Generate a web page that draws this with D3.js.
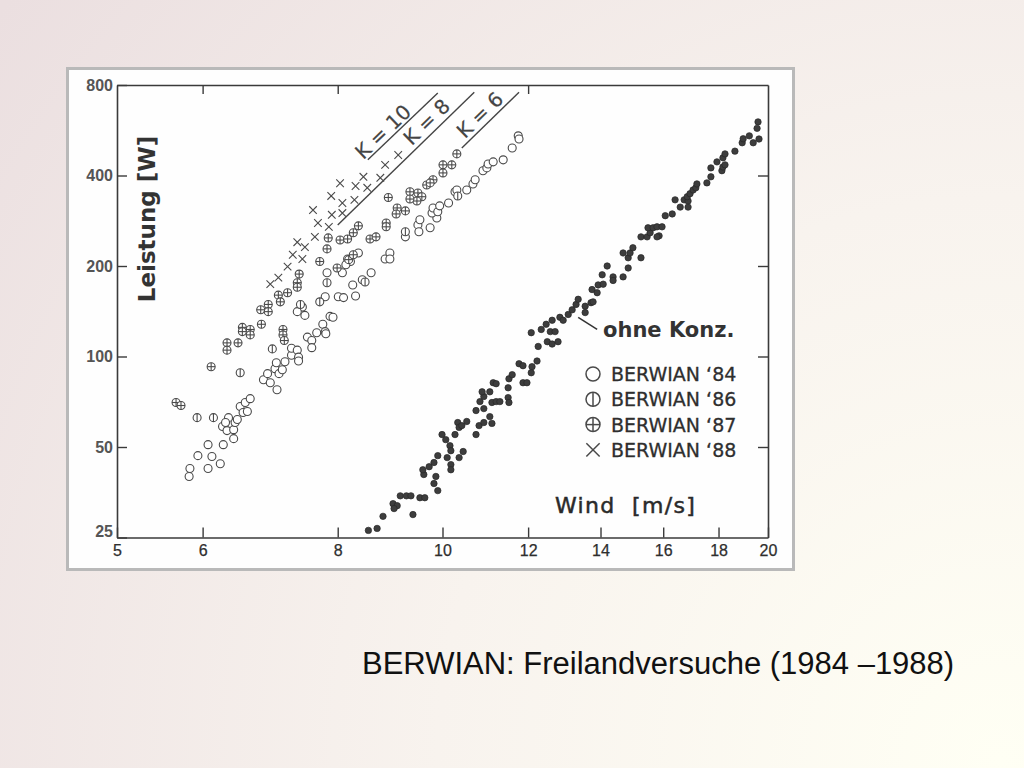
<!DOCTYPE html>
<html>
<head>
<meta charset="utf-8">
<script src="https://cdn.jsdelivr.net/npm/d3@7"></script>
<style>
  html, body { margin: 0; padding: 0; }
  body { width: 1024px; height: 768px; overflow: hidden; }
</style>
</head>
<body>
<svg id="chart" width="1024" height="768" font-family="'DejaVu Sans', sans-serif"></svg>
<script>
// ---------- data ----------
const xTicks = [5, 6, 8, 10, 12, 14, 16, 18, 20];
const yTicks = [25, 50, 100, 200, 400, 800];
const topTicks = [6, 8, 12];
const rightTicks = [50, 100, 200, 400];

// [wind m/s, power W]
const berwian84 = [
  [5.83,39.9],[5.84,42.4],[5.94,46.8],[6.07,42.4],[6.12,46.5],[6.23,44.0],[6.07,50.9],[6.27,50.9],
  [6.41,53.3],[6.26,58.5],[6.32,56.7],[6.41,57.1],[6.43,60.3],[6.34,62.6],[6.30,60.3],[6.46,61.7],
  [6.50,68.2],[6.57,70.3],[6.64,72.4],[6.54,65.1],[6.60,65.6],[6.83,83.7],[6.89,87.7],[6.93,81.8],
  [7.03,77.5],[7.00,91.1],[7.06,87.7],[7.11,90.3],[7.15,96.1],[7.02,95.3],[7.25,101],[7.25,106.5],
  [7.34,105],[7.36,99.5],[7.36,96.6],[7.50,116],[7.57,113],[7.57,107],[7.65,120],[7.75,128],
  [7.79,121],[7.87,136],[7.92,135],[7.80,119],[8.01,158],[8.10,157],[8.31,159],[8.26,173],
  [8.43,180],[8.08,190],[7.82,190],[8.36,221],[8.17,211],[8.22,207],[8.14,202],[8.59,190],
  [8.85,211],[8.94,221],[8.94,211],[9.24,250],[9.49,274],[9.51,260],[9.53,285],[9.74,268],
  [9.88,289],[9.78,300],[9.80,312],[9.90,303],[9.94,317],[10.13,324],[10.27,353],[10.31,358],
  [10.53,358],[10.67,375],[10.72,387],[10.90,415],[10.99,424],[11.02,437],[11.14,444],[11.38,451],
  [11.60,494],[11.75,542],[11.77,529],[7.42,146],[7.34,141],[7.46,137],[7.79,158]
];
const berwian86 = [
  [5.93,62.6],[6.14,62.6],[6.50,88.3],[6.96,106],[7.39,149],[7.70,152],[7.82,176],[8.48,177],
  [9.24,260],[10.33,342]
];
const berwian87 = [
  [5.67,70.3],[5.73,68.7],[6.11,92.5],[6.32,111],[6.32,105],[6.47,111],[6.53,125],[6.53,121],
  [6.64,123],[6.64,118],[6.80,128],[6.79,143],[6.90,149],[6.90,141],[7.05,160],[7.08,152],
  [7.19,163],[7.34,176],[7.34,170],[7.37,188],[7.12,123],[7.12,118],[7.14,113],[7.70,207],
  [7.82,228],[7.84,248],[8.04,244],[8.17,246],[8.27,258],[8.36,272],[8.57,246],[8.68,250],
  [7.99,197],[8.19,210],[8.27,218],[8.87,278],[8.87,270],[9.08,312],[9.06,298],[9.24,305],
  [8.91,338],[9.33,353],[9.49,350],[9.57,340],[9.47,329],[9.33,334],[9.67,372],[9.80,387],
  [9.74,378],[10.01,434],[10.20,434],[10.01,408],[10.31,472]
];
const berwian88 = [
  [6.93,174],[7.05,183],[7.19,199],[7.27,218],[7.34,240],[7.42,211],[7.46,231],[7.62,250],
  [7.67,278],[7.85,270],[7.90,296],[7.59,307],[7.89,342],[8.04,377],[8.08,324],[8.08,300],
  [8.31,369],[8.29,332],[8.45,396],[8.52,364],[8.76,393],[8.85,434],[9.10,468]
];
const ohneKonz = [
  [8.54,26.4],[8.70,26.8],[8.81,29.4],[9.00,32.4],[9.08,31.9],[9.02,31.2],[9.14,34.4],[9.26,34.4],
  [9.35,34.4],[9.39,29.8],[9.53,33.9],[9.63,33.9],[9.61,40.5],[9.59,42.0],[9.72,43.0],[9.82,44.4],
  [9.90,46.8],[9.86,39.9],[9.82,37.8],[9.90,35.8],[9.99,55.0],[10.07,52.9],[10.16,50.5],[10.18,48.6],
  [10.10,46.1],[10.18,43.7],[10.18,42.0],[10.36,46.1],[10.45,48.3],[10.27,55.0],[10.33,60.3],[10.36,58.1],
  [10.42,58.9],[10.53,60.8],[10.74,55.0],[10.74,66.1],[10.83,70.8],[10.92,67.1],[10.92,73.6],[10.88,76.3],
  [11.06,76.3],[10.81,58.9],[10.92,60.3],[11.06,63.1],[11.11,59.9],[11.14,81.8],[11.21,81.2],[11.11,70.3],
  [11.21,70.8],[11.30,70.8],[11.50,73.0],[11.52,70.3],[11.50,78.7],[11.52,84.3],[11.60,87.0],[11.87,81.8],
  [11.97,81.8],[11.77,94.6],[11.87,93.2],[12.10,92.5],[12.23,96.6],[12.08,88.3],[12.08,120],[12.26,108],
  [12.50,112],[12.63,110],[12.79,112],[12.58,121],[12.71,121],[12.34,123],[12.47,128],[12.63,132],
  [12.84,135],[12.93,132],[13.07,138],[13.18,143],[13.29,149],[13.35,155],[13.55,147],[13.55,140],
  [13.72,151],[13.78,152],[13.75,167],[13.90,163],[13.93,173],[14.08,174],[14.05,187],[14.20,200],
  [14.38,184],[14.38,179],[14.69,184],[14.85,197],[14.85,213],[14.69,221],[14.91,221],[15.00,230],
  [15.26,213],[15.26,250],[15.46,250],[15.56,258],[15.49,268],[15.66,268],[15.79,270],[15.96,270],
  [15.86,252],[15.79,250],[16.07,294],[16.31,298],[16.41,332],[16.59,314],[16.87,314],[16.73,332],
  [16.87,329],[16.84,340],[16.94,348],[17.05,358],[17.15,364],[17.19,375],[17.56,378],[17.71,396],
  [17.71,424],[17.94,444],[18.17,458],[18.25,472],[18.13,415],[18.17,427],[18.25,434],[18.64,482],
  [18.93,514],[18.97,530],[19.22,542],[19.38,514],[19.54,574],[19.58,603],[19.62,529]
];

// reference lines (K lines), endpoints in [wind, power]
const kLabels = ["K = 10", "K = 8", "K = 6"];
const kStart = [[8.53,451],[8.00,274],[10.42,494]];
const kEnd   = [[9.90,752],[10.70,757],[11.77,757]];
const kLabelAt = [[8.81,559],[9.67,603],[10.83,636]];

const legendLabels = ["BERWIAN \u201884", "BERWIAN \u201886", "BERWIAN \u201887", "BERWIAN \u201888"];
const legendKinds = ["o", "bar", "plus", "x"];

const xTitle = "Wind  [m/s]";
const yTitle = "Leistung [W]";
const noteText = "ohne Konz.";
const noteFrom = [13.35,135], noteTo = [13.90,123];
const caption = "BERWIAN: Freilandversuche (1984 \u20131988)";

// ---------- drawing ----------
const svg = d3.select("#chart");
const defs = svg.append("defs");
const grad = defs.append("radialGradient").attr("id", "bg")
  .attr("gradientUnits", "userSpaceOnUse")
  .attr("cx", 1000).attr("cy", 760).attr("r", 1250);
grad.append("stop").attr("offset", "0%").attr("stop-color", "#fffff4");
grad.append("stop").attr("offset", "45%").attr("stop-color", "#f8f3ee");
grad.append("stop").attr("offset", "100%").attr("stop-color", "#ebdfe0");
svg.append("rect").attr("width", 1024).attr("height", 768).attr("fill", "url(#bg)");

// picture frame
svg.append("rect").attr("x", 67.5).attr("y", 68.5).attr("width", 726).attr("height", 501)
  .attr("fill", "#fefefe").attr("stroke", "#b9b9b9").attr("stroke-width", 3);

const x = d3.scaleLog().domain([5, 20]).range([117, 768]);
const y = d3.scaleLog().domain([25, 800]).range([537.5, 85]);

const ink = "#3a3a3a";
const sansArial = "'Liberation Sans', Arial, sans-serif";

function styleAxis(g) {
  g.select(".domain").attr("stroke", ink).attr("stroke-width", 1.6);
  g.selectAll(".tick line").attr("stroke", ink).attr("stroke-width", 1.4);
}

const gx = svg.append("g").attr("transform", "translate(0,537.5)")
  .call(d3.axisBottom(x).tickValues(xTicks).tickFormat(d3.format("d"))
        .tickSizeInner(-10).tickSizeOuter(0).tickPadding(7))
  .call(styleAxis);
gx.selectAll(".tick text").attr("font-family", sansArial).attr("font-size", 16)
  .attr("fill", "#2e2e2e").attr("stroke", "#2e2e2e").attr("stroke-width", 0.25);

const gy = svg.append("g").attr("transform", "translate(117,0)")
  .call(d3.axisLeft(y).tickValues(yTicks).tickFormat(d3.format("d"))
        .tickSizeInner(-10).tickSizeOuter(0).tickPadding(4))
  .call(styleAxis);
gy.selectAll(".tick text").attr("font-family", sansArial).attr("font-size", 16)
  .attr("font-weight", "bold").attr("fill", "#555");
gy.selectAll(".tick").filter(d => d === 25).select("text").attr("dy", "-0.05em");

svg.append("g").attr("transform", "translate(0,85)")
  .call(d3.axisTop(x).tickValues(topTicks).tickFormat("")
        .tickSizeInner(-9).tickSizeOuter(0))
  .call(styleAxis);

svg.append("g").attr("transform", "translate(768,0)")
  .call(d3.axisRight(y).tickValues(rightTicks).tickFormat("")
        .tickSizeInner(-10).tickSizeOuter(0))
  .call(styleAxis);

// K lines
const kg = svg.append("g");
kLabels.forEach((lab, i) => {
  const x1 = x(kStart[i][0]), y1 = y(kStart[i][1]);
  const x2 = x(kEnd[i][0]), y2 = y(kEnd[i][1]);
  kg.append("line").attr("x1", x1).attr("y1", y1).attr("x2", x2).attr("y2", y2)
    .attr("stroke", "#444").attr("stroke-width", 1.4);
  const ang = Math.atan2(y2 - y1, x2 - x1) * 180 / Math.PI;
  kg.append("text")
    .attr("transform", `translate(${x(kLabelAt[i][0])},${y(kLabelAt[i][1])}) rotate(${ang})`)
    .attr("text-anchor", "middle").attr("dominant-baseline", "central")
    .attr("font-size", 20).attr("fill", "#444").attr("stroke", "#444").attr("stroke-width", 0.2)
    .text(lab);
});

// markers
const mk = "#4a4a4a";
function drawMarker(g, kind, r, sw) {
  if (kind === "x") {
    const s = r * 0.95;
    g.append("path").attr("d", `M${-s},${-s}L${s},${s}M${-s},${s}L${s},${-s}`)
      .attr("stroke", mk).attr("stroke-width", sw).attr("fill", "none");
    return;
  }
  g.append("circle").attr("r", r).attr("fill", "#fff").attr("stroke", mk).attr("stroke-width", sw);
  if (kind === "bar" || kind === "plus") {
    g.append("line").attr("x1", 0).attr("x2", 0).attr("y1", -r).attr("y2", r)
      .attr("stroke", mk).attr("stroke-width", sw);
  }
  if (kind === "plus") {
    g.append("line").attr("x1", -r).attr("x2", r).attr("y1", 0).attr("y2", 0)
      .attr("stroke", mk).attr("stroke-width", sw);
  }
}

// filled dots (ohne Konzentrator)
svg.append("g").selectAll("circle").data(ohneKonz).join("circle")
  .attr("cx", d => x(d[0])).attr("cy", d => y(d[1])).attr("r", 3.2)
  .attr("fill", "#3d3d3d").attr("stroke", "#262626").attr("stroke-width", 0.7);

[[berwian84, "o"], [berwian86, "bar"], [berwian87, "plus"], [berwian88, "x"]].forEach(([arr, kind]) => {
  svg.append("g").selectAll("g").data(arr).join("g")
    .attr("transform", d => `translate(${x(d[0])},${y(d[1])})`)
    .each(function () { drawMarker(d3.select(this), kind, 4, 1.1); });
});

// note "ohne Konz."
svg.append("line").attr("x1", x(noteFrom[0])).attr("y1", y(noteFrom[1]))
  .attr("x2", x(noteTo[0])).attr("y2", y(noteTo[1])).attr("stroke", "#333").attr("stroke-width", 1.5);
svg.append("text").attr("x", 603).attr("y", 337).attr("font-size", 21).attr("font-weight", "bold")
  .attr("fill", "#333").text(noteText);

// legend
const lg = svg.append("g");
legendLabels.forEach((lab, i) => {
  const cy = 374 + i * 25.3;
  const g = lg.append("g").attr("transform", `translate(593,${cy})`);
  drawMarker(g, legendKinds[i], 7, 1.5);
  lg.append("text").attr("x", 611).attr("y", cy + 7).attr("font-size", 19)
    .attr("fill", "#2e2e2e").attr("stroke", "#2e2e2e").attr("stroke-width", 0.3).text(lab);
});

// axis titles
svg.append("text").attr("transform", "translate(155,219) rotate(-90)")
  .attr("text-anchor", "middle").attr("font-size", 23).attr("font-weight", "bold")
  .attr("fill", "#333").text(yTitle);
svg.append("text").attr("x", 555).attr("y", 513).attr("font-size", 22)
  .attr("letter-spacing", 1.3).style("white-space", "pre")
  .attr("fill", "#2a2a2a").attr("stroke", "#2a2a2a").attr("stroke-width", 0.5).text(xTitle);

// caption
svg.append("text").attr("x", 362).attr("y", 674)
  .attr("font-family", sansArial)
  .attr("font-size", 31).attr("fill", "#111").text(caption);
</script>
</body>
</html>
